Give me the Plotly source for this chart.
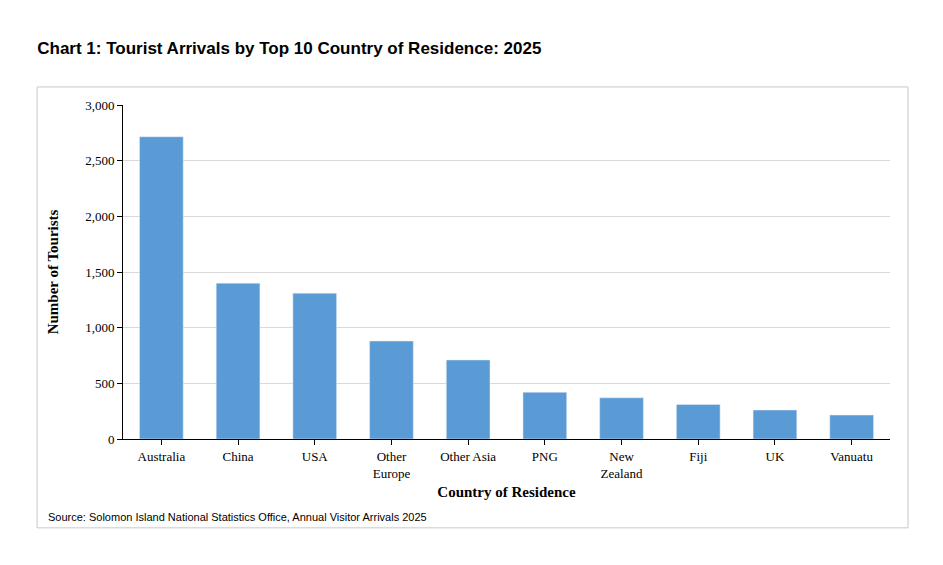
import plotly.graph_objects as go

countries = ["Australia", "China", "USA", "Other<br>Europe", "Other Asia", "PNG",
             "New<br>Zealand", "Fiji", "UK", "Vanuatu"]
tourists = [2715, 1400, 1310, 880, 710, 420, 370, 310, 260, 215]

fig = go.Figure()
fig.add_trace(go.Bar(x=countries, y=tourists, marker_color="#5b9bd5", width=0.57))

serif = "Liberation Serif"
fig.update_layout(
    width=943, height=565,
    margin=dict(l=115, r=61, t=97, b=134),
    plot_bgcolor="white", paper_bgcolor="white",
    showlegend=False,
    title=dict(text="<b>Chart 1: Tourist Arrivals by Top 10 Country of Residence: 2025</b>",
               x=0.031, xanchor="left", y=0.929, yanchor="middle",
               font=dict(family="Liberation Sans", size=17, color="black")),
    xaxis=dict(showline=True, linecolor="black", ticks="outside", ticklen=5,
               tickcolor="black", tickfont=dict(family=serif, size=13, color="black"),
               title=dict(text="<b>Country of Residence</b>", standoff=6,
                          font=dict(family=serif, size=15, color="black"))),
    yaxis=dict(range=[0, 3000], dtick=500, tickformat=",", showline=True,
               linecolor="black", ticks="outside", ticklen=5, tickcolor="black",
               gridcolor="#d9d9d9", zeroline=False,
               tickfont=dict(family=serif, size=13, color="black"),
               title=dict(text="<b>Number of Tourists</b>", standoff=22,
                          font=dict(family=serif, size=15, color="black"))),
)

fig.add_shape(type="rect", xref="paper", yref="paper",
              x0=-0.112, x1=1.0235, y0=-0.266, y1=1.054,
              line=dict(color="#c8c8c8", width=1))
fig.add_annotation(xref="paper", yref="paper", x=-0.1, y=-0.234,
                   xanchor="left", yanchor="middle", showarrow=False,
                   text="Source: Solomon Island National Statistics Office, Annual Visitor Arrivals 2025",
                   font=dict(family="Liberation Sans", size=11, color="black"))

fig.write_html("out.html")
